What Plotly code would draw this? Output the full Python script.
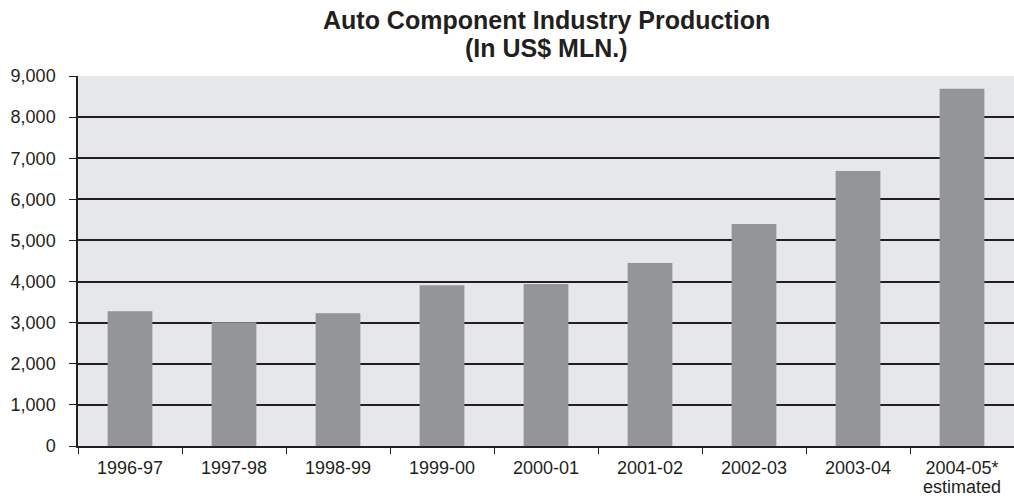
import plotly.graph_objects as go

# Auto component production by fiscal year, US$ million
years = ["1996-97", "1997-98", "1998-99", "1999-00", "2000-01",
         "2001-02", "2002-03", "2003-04", "2004-05*"]
production = [3280, 3010, 3230, 3910, 3940, 4450, 5400, 6690, 8690]
y_ticks = [0, 1000, 2000, 3000, 4000, 5000, 6000, 7000, 8000, 9000]
title_lines = ["Auto Component Industry Production", "(In US$ MLN.)"]
footnote = "estimated"

FONT = "Liberation Sans, Arial, sans-serif"
INK = "#231f20"

fig = go.Figure(
    go.Bar(
        x=years,
        y=production,
        marker=dict(color="#939598", line=dict(width=0)),
        hoverinfo="x+y",
    )
)

fig.update_layout(
    width=1014,
    height=504,
    margin=dict(l=78, r=0, t=76, b=58),
    paper_bgcolor="white",
    plot_bgcolor="#e6e7e9",
    bargap=0.57,
    showlegend=False,
    font=dict(family=FONT, size=18, color=INK),
)

# two-line bold heading, placed as separate lines for tight spacing
for text, ypos in zip(title_lines, [1.152, 1.076]):
    fig.add_annotation(
        text=f"<b>{text}</b>", xref="paper", yref="paper",
        x=0.5, y=ypos, xanchor="center", yanchor="middle",
        showarrow=False, font=dict(family=FONT, size=25, color=INK),
        borderpad=0,
    )

# second line under the last category label
fig.add_annotation(
    text=footnote, xref="x", yref="paper",
    x=years[-1], y=-0.111, xanchor="center", yanchor="middle",
    showarrow=False, font=dict(family=FONT, size=18, color=INK),
)

fig.update_xaxes(
    type="category",
    tickson="boundaries",
    ticks="outside",
    ticklen=6,
    tickcolor=INK,
    tickwidth=1,
    ticklabelstandoff=5,
    showline=True,
    linecolor=INK,
    linewidth=1.5,
    showgrid=False,
    tickfont=dict(family=FONT, size=18, color=INK),
)

fig.update_yaxes(
    range=[0, 9000],
    tickvals=y_ticks,
    tickformat=",d",
    ticks="outside",
    ticklen=7,
    tickcolor=INK,
    ticklabelstandoff=10,
    showline=True,
    linecolor=INK,
    linewidth=1.5,
    showgrid=True,
    gridcolor=INK,
    gridwidth=1.5,
    zeroline=False,
    tickfont=dict(family=FONT, size=18, color=INK),
)

fig.write_html("out.html")
